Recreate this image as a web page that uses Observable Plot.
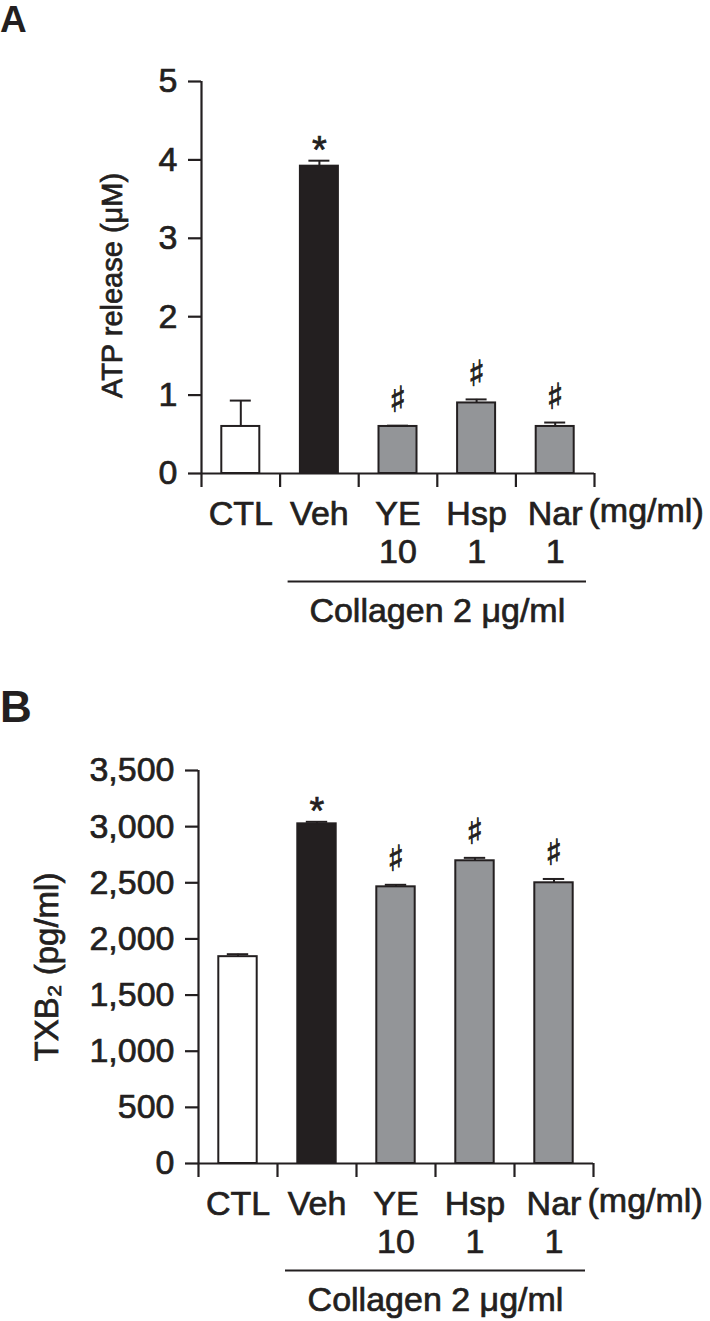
<!DOCTYPE html>
<html><head><meta charset="utf-8">
<script src="https://cdn.jsdelivr.net/npm/d3@7"></script>
<script src="https://cdn.jsdelivr.net/npm/@observablehq/plot@0.6"></script>
<style>
body{margin:0;background:#fff;}
#fig{position:relative;width:710px;height:1321px;font-family:"Liberation Sans",Arial,sans-serif;color:#231f20;overflow:hidden;}
.abs{position:absolute;left:0;}
.letter{position:absolute;left:0;font-weight:bold;line-height:1;font-family:"Liberation Sans",Arial,sans-serif;color:#231f20;}
#fig svg text{stroke:#231f20;stroke-width:0.7px;}
</style></head><body><div id="fig"></div>
<script>
// ---- data ----
const categories = ["CTL", "Veh", "YE", "Hsp", "Nar"];
const doses = ["", "", "10", "1", "1"];
const doseUnit = "(mg/ml)";
const groupLabel = "Collagen 2 μg/ml";
const groupStart = "Veh";
const groupEnd = "Nar";
const fills = ["#ffffff", "#231f20", "#939598", "#939598", "#939598"];

const atpMean = [0.60, 3.92, 0.60, 0.90, 0.60];
const atpErr = [0.33, 0.07, 0.01, 0.045, 0.05];
const atpSig = ["", "*", "♯", "♯", "♯"];
const atpTicks = [0, 1, 2, 3, 4, 5];
const atpTitle = "ATP release (μM)";

const txbMean = [1842, 3025, 2464, 2696, 2500];
const txbErr = [22, 18, 18, 26, 34];
const txbSig = ["", "*", "♯", "♯", "♯"];
const txbTicks = [0, 500, 1000, 1500, 2000, 2500, 3000, 3500];
const txbTitle = "TXB₂ (pg/ml)";

const FONT = '"Liberation Sans", Arial, Helvetica, sans-serif';
const INK = "#231f20";
const n = categories.length;

function mainPlot({mean, err, sig, ticks, title, top, frameBottom, left, right, titleDx, titleDy, titleSize, tickFont}) {
  const rows = categories.map((c, i) => ({
    cat: c, i, mean: mean[i], err: err[i], sig: sig[i], fill: fills[i],
    label: doses[i] ? c + "\n" + doses[i] : c
  }));
  const H = frameBottom + 127;
  return Plot.plot({
    width: 710, height: H,
    marginTop: top, marginBottom: H - frameBottom, marginLeft: left, marginRight: 710 - right,
    x: {domain: [0, n]},
    y: {domain: [ticks[0], ticks[ticks.length - 1]]},
    color: {type: "identity"},
    style: {fontFamily: FONT, color: INK, background: "transparent", overflow: "visible"},
    marks: [
      Plot.rect(rows, {x1: "i", x2: d => d.i + 1, y1: () => 0, y2: "mean", fill: "fill", stroke: INK, strokeWidth: 2, insetLeft: 20.3, insetRight: 20.3}),
      Plot.ruleX(rows, {x: d => d.i + 0.5, y1: "mean", y2: d => d.mean + d.err, stroke: INK, strokeWidth: 2}),
      Plot.ruleY(rows, {x1: "i", x2: d => d.i + 1, y: d => d.mean + d.err, insetLeft: 28.8, insetRight: 28.8, stroke: INK, strokeWidth: 2}),
      Plot.text(rows.filter(d => d.sig === "*"), {x: d => d.i + 0.5, y: d => d.mean + d.err, text: "sig", dy: -10, fontSize: 38, fill: INK}),
      Plot.text(rows.filter(d => d.sig === "♯"), {x: d => d.i + 0.5, y: d => d.mean + d.err, text: "sig", dy: -25, fontSize: 36, fontFamily: "DejaVu Sans", fill: INK}),
      Plot.axisY({ticks, tickSize: 13, tickPadding: 11, tickFormat: d3.format(","), fontSize: tickFont, strokeWidth: 2.2, label: null, fill: INK, stroke: INK}),
      Plot.ruleX([0], {y1: ticks[0], y2: ticks[ticks.length - 1], stroke: INK, strokeWidth: 2.2}),
      Plot.ruleY([0], {stroke: INK, strokeWidth: 2.2}),
      Plot.axisX({ticks: d3.range(n + 1), tickSize: 14, tickFormat: () => "", strokeWidth: 2.2, stroke: INK, label: null}),
      Plot.axisX({ticks: d3.range(n).map(i => i + 0.5), tickSize: 0, tickPadding: 24, tickFormat: v => rows[Math.floor(v)].label, fontSize: 34, lineHeight: 1.12, label: null, fill: INK}),
      Plot.text([{t: doseUnit, x: n}], {x: "x", text: "t", frameAnchor: "bottom", dy: 24, dx: -6, lineAnchor: "top", textAnchor: "start", fontSize: 34, fill: INK}),
      Plot.text([title], {text: d => d, frameAnchor: "left", rotate: -90, dx: titleDx, dy: titleDy, fontSize: titleSize, textAnchor: "middle", lineAnchor: "middle", fill: INK})
    ]
  });
}

function groupPlot({left, right}) {
  const a = categories.indexOf(groupStart);
  const b = categories.indexOf(groupEnd) + 1;
  return Plot.plot({
    width: 710, height: 72, marginTop: 0, marginBottom: 30, marginLeft: left, marginRight: 710 - right,
    x: {domain: [0, n], axis: null},
    style: {fontFamily: FONT, color: INK, background: "transparent", overflow: "visible"},
    marks: [
      Plot.ruleY([{a, b}], {x1: "a", x2: "b", y: null, insetLeft: 8, insetRight: 8, stroke: INK, strokeWidth: 2.2}),
      Plot.text([{t: groupLabel, x: (a + b) / 2}], {x: "x", text: "t", frameAnchor: "bottom", dy: 19, fontSize: 34, fill: INK})
    ]
  });
}

const fig = document.getElementById("fig");
function place(el, top) { el.classList.add("abs"); el.style.top = top + "px"; fig.appendChild(el); }
function letter(txt, top, size) {
  const d = document.createElement("div");
  d.className = "letter"; d.textContent = txt;
  d.style.top = top + "px"; d.style.fontSize = size + "px";
  fig.appendChild(d);
}

letter("A", 1, 37);
place(mainPlot({mean: atpMean, err: atpErr, sig: atpSig, ticks: atpTicks, title: atpTitle,
  top: 81, frameBottom: 473, left: 201, right: 594, titleDx: -89, titleDy: 8, titleSize: 29, tickFont: 34}), 0);
place(groupPlot({left: 201, right: 594}), 560);

letter("B", 685, 44);
place(mainPlot({mean: txbMean, err: txbErr, sig: txbSig, ticks: txbTicks, title: txbTitle,
  top: 70, frameBottom: 463, left: 198, right: 593, titleDx: -151, titleDy: 0, titleSize: 33, tickFont: 34}), 700);
place(groupPlot({left: 198, right: 593}), 1249);
</script>
</body></html>
